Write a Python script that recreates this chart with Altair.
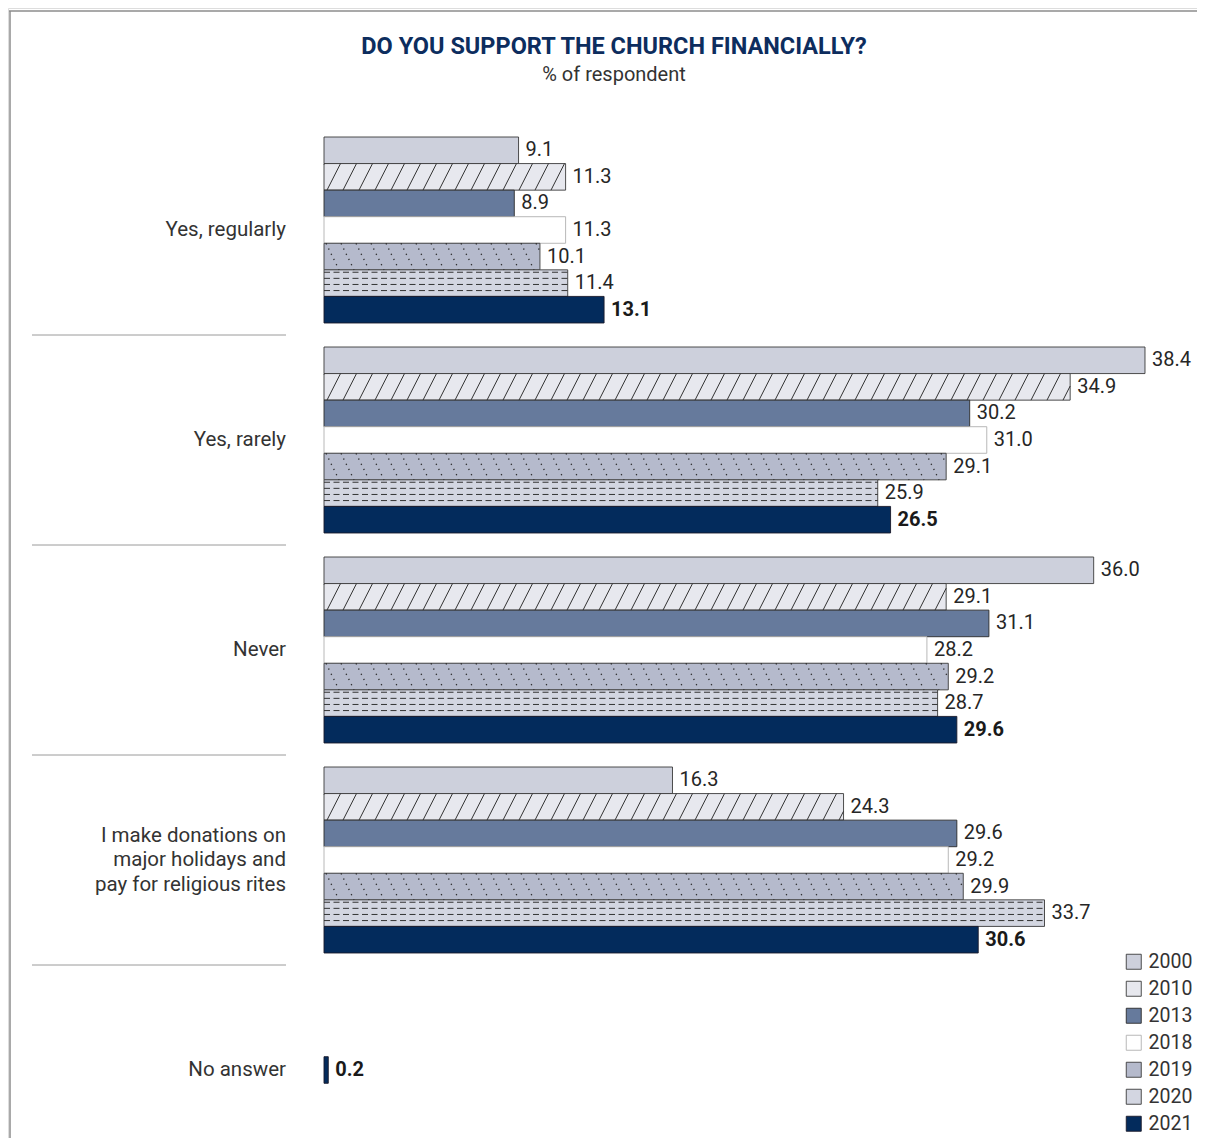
import math
import altair as alt
import pandas as pd

# ---------------- data ----------------
TITLE = "DO YOU SUPPORT THE CHURCH FINANCIALLY?"
SUBTITLE = "% of respondent"
categories = [
    "Yes, regularly",
    "Yes, rarely",
    "Never",
    "I make donations on\nmajor holidays and\npay for religious rites",
    "No answer",
]
years = ["2000", "2010", "2013", "2018", "2019", "2020", "2021"]
v2000 = [9.1, 38.4, 36.0, 16.3]
v2010 = [11.3, 34.9, 29.1, 24.3]
v2013 = [8.9, 30.2, 31.1, 29.6]
v2018 = [11.3, 31.0, 28.2, 29.2]
v2019 = [10.1, 29.1, 29.2, 29.9]
v2020 = [11.4, 25.9, 28.7, 33.7]
v2021 = [13.1, 26.5, 29.6, 30.6, 0.2]
series = [v2000, v2010, v2013, v2018, v2019, v2020, v2021]

fills = ["#cdd0dc", "#e7e8ee", "#667a9c", "#ffffff", "#b5bacc", "#d3d6e1", "#032b5c"]
strokes = ["#3a3a3a", "#3a3a3a", "#2a2a2a", "#b0b0b0", "#3a3a3a", "#3a3a3a", "#1a1a2a"]

# ---------------- layout helpers ----------------
W, H = 1189, 1130
PX = 21.38                  # pixels per percentage point
X0 = 316                    # pixel of 0 %
GROUP_PX = 210.0
PAD = 12.0 / GROUP_PX
SLOT = 26.57 / GROUP_PX
LINE_H = 24.5
n_years = len(years)

rows = []
for gi, cat in enumerate(categories):
    present = [yi for yi in range(n_years) if gi < len(series[yi])]
    for yi in present:
        slot = yi if len(present) == n_years else (n_years - 1) / 2
        top = gi + PAD + slot * SLOT
        rows.append(dict(cat=cat, gi=gi, year=years[yi], value=series[yi][gi],
                         x0=0.0, top=top, bot=top + SLOT, mid=top + SLOT / 2))
df = pd.DataFrame(rows)


def hatch(year, step_px, dx_px, phase_px, slash):
    out = []
    sub = df[df.year == year]
    step, dx, phase = step_px / PX, dx_px / PX, phase_px / PX
    for _, r in sub.iterrows():
        v = r.value
        kmin = -int(math.ceil(dx / step)) - 1
        kmax = int(math.ceil(v / step)) + 1
        for k in range(kmin, kmax + 1):
            xs = phase + k * step
            tmin = max(0.0, (0 - xs) / dx)
            tmax = min(1.0, (v - xs) / dx)
            if tmax - tmin <= 0.03:
                continue
            ya, yb = (r.bot, r.top) if slash else (r.top, r.bot)
            out.append(dict(xa=xs + tmin * dx, xb=xs + tmax * dx,
                            ya=ya + tmin * (yb - ya), yb=ya + tmax * (yb - ya)))
    return pd.DataFrame(out)


hatch2010 = hatch("2010", 16.0, 13.5, 3.0, True)
hatch2019 = hatch("2019", 15.0, 13.0, 2.0, False)

dash_rows = []
for _, r in df[df.year == "2020"].iterrows():
    for f in [0.09, 0.32, 0.55, 0.78]:
        dash_rows.append(dict(x0=0.0, value=r.value, y=r.top + f * SLOT))
dash2020 = pd.DataFrame(dash_rows)

labels_df = pd.DataFrame({
    "cat": categories,
    "center": [i + 0.5 - (c.count("\n") / 2) * LINE_H / GROUP_PX for i, c in enumerate(categories)],
})
seps_df = pd.DataFrame({"b": list(range(1, len(categories)))})

FONT = "Roboto"
xs = alt.Scale(domain=[0, 40], range=[X0, X0 + 40 * PX], nice=False, zero=False)
ys = alt.Scale(domain=[0, len(categories)], range=[117, 117 + GROUP_PX * len(categories)], nice=False, zero=False)

legend = alt.Legend(title=None, orient="none", legendX=1116, legendY=944,
                    symbolType="square", symbolSize=225, symbolStrokeWidth=0.9,
                    labelFont=FONT, labelFontSize=19.5, labelColor="#333333",
                    labelOffset=5, rowPadding=6)

bars = alt.Chart(df).mark_bar(strokeWidth=0.9).encode(
    x=alt.X("x0:Q", scale=xs, axis=None),
    x2="value:Q",
    y=alt.Y("top:Q", scale=ys, axis=None),
    y2="bot:Q",
    fill=alt.Fill("year:N", scale=alt.Scale(domain=years, range=fills), legend=legend),
    stroke=alt.Stroke("year:N", scale=alt.Scale(domain=years, range=strokes), legend=legend),
)

h2010 = alt.Chart(hatch2010).mark_rule(color="#333333", strokeWidth=1).encode(
    x=alt.X("xa:Q", scale=xs, axis=None), x2="xb:Q",
    y=alt.Y("ya:Q", scale=ys, axis=None), y2="yb:Q",
)
h2019 = alt.Chart(hatch2019).mark_rule(color="#2a2a2a", strokeWidth=1.3, strokeDash=[1.3, 4.5]).encode(
    x=alt.X("xa:Q", scale=xs, axis=None), x2="xb:Q",
    y=alt.Y("ya:Q", scale=ys, axis=None), y2="yb:Q",
)
d2020 = alt.Chart(dash2020).mark_rule(color="#333333", strokeWidth=1, strokeDash=[6, 3.5]).encode(
    x=alt.X("x0:Q", scale=xs, axis=None), x2="value:Q",
    y=alt.Y("y:Q", scale=ys, axis=None),
)

vals_normal = alt.Chart(df).transform_filter(alt.datum.year != "2021").mark_text(
    align="left", baseline="middle", dx=7, font=FONT, fontSize=20, color="#262626"
).encode(
    x=alt.X("value:Q", scale=xs, axis=None),
    y=alt.Y("mid:Q", scale=ys, axis=None),
    text=alt.Text("value:Q", format=".1f"),
)
vals_bold = alt.Chart(df).transform_filter(alt.datum.year == "2021").mark_text(
    align="left", baseline="middle", dx=7, font=FONT, fontSize=20, fontWeight="bold", color="#1a1a1a"
).encode(
    x=alt.X("value:Q", scale=xs, axis=None),
    y=alt.Y("mid:Q", scale=ys, axis=None),
    text=alt.Text("value:Q", format=".1f"),
)

cat_labels = alt.Chart(labels_df).mark_text(
    align="right", baseline="middle", font=FONT, fontSize=20.5, color="#333333",
    lineBreak="\n", lineHeight=LINE_H
).encode(
    x=alt.value(278),
    y=alt.Y("center:Q", scale=ys, axis=None),
    text="cat:N",
)

seps = alt.Chart(seps_df).mark_rule(color="#9a9a9a", strokeWidth=1).encode(
    x=alt.value(24), x2=alt.value(278),
    y=alt.Y("b:Q", scale=ys, axis=None),
)

title = alt.Chart(pd.DataFrame({"t": [TITLE]})).mark_text(
    align="center", baseline="middle", font=FONT, fontSize=23.5, fontWeight="bold", color="#0d2d5e"
).encode(x=alt.value(606), y=alt.value(39), text="t:N")
subtitle = alt.Chart(pd.DataFrame({"t": [SUBTITLE]})).mark_text(
    align="center", baseline="middle", font=FONT, fontSize=20, color="#333333"
).encode(x=alt.value(606), y=alt.value(67), text="t:N")

frame_top = alt.Chart(pd.DataFrame({"a": [0]})).mark_rule(color="#8c8c8c", strokeWidth=1.5).encode(
    x=alt.value(1), x2=alt.value(W), y=alt.value(3))
frame_left = alt.Chart(pd.DataFrame({"a": [0]})).mark_rule(color="#8c8c8c", strokeWidth=1.5).encode(
    x=alt.value(2), y=alt.value(3), y2=alt.value(H))

chart = alt.layer(
    frame_top, frame_left, seps, bars, h2010, h2019, d2020,
    vals_normal, vals_bold, cat_labels, title, subtitle,
).properties(
    width=W, height=H, padding=0,
    autosize=alt.AutoSizeParams(type="none"),
).configure_view(strokeWidth=0).configure(background="white")

chart.save("out.html", embed_options={"renderer": "svg", "actions": False})
